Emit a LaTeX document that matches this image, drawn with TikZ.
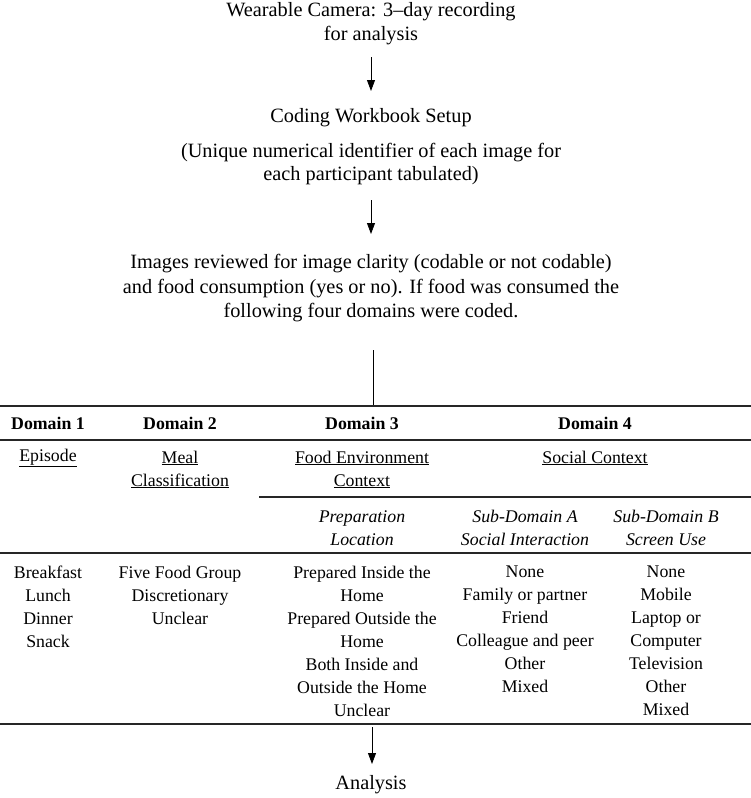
\documentclass[tikz,border=0pt]{standalone}
\usepackage{fontspec}
\setmainfont{Liberation Serif}
\usetikzlibrary{arrows.meta}
\begin{document}
\begin{tikzpicture}[x=1pt,y=-1pt,
  txt/.style={font=\fontsize{20.3}{23.5}\selectfont, align=center, inner sep=0pt},
  tb/.style={font=\fontsize{17.8}{23}\selectfont, align=center, inner sep=0pt},
  hd/.style={tb, font=\fontsize{17.8}{23}\selectfont\bfseries},
  it/.style={tb, font=\fontsize{17.8}{23.5}\selectfont\itshape},
  rule/.style={line width=1.6pt, draw=black!85},
  arr/.style={line width=0.8pt, -{Triangle[width=8pt,length=11pt]}}]
\useasboundingbox (0,0) rectangle (751,798);
% top flow
\node[txt] (cam) at (371,23.5) {Wearable Camera: 3–day recording\\for analysis};
\node[txt] (cws) at (371,118) {Coding Workbook Setup};
\node[txt] (uni) at (371,164) {(Unique numerical identifier of each image for\\each participant tabulated)};
\node[txt,font=\fontsize{20.3}{24.5}\selectfont] (img) at (371,288.5) {Images reviewed for image clarity (codable or not codable)\\and food consumption (yes or no). If food was consumed the\\following four domains were coded.};
\coordinate (a1s) at (371,57); \coordinate (a1e) at (371,91);
\coordinate (a2s) at (371,200); \coordinate (a2e) at (371,234);
\draw[arr] (a1s) -- (a1e);
\draw[arr] (a2s) -- (a2e);
\coordinate (vs) at (373,350); \coordinate (ve) at (373,406);
\draw[line width=0.8pt] (vs) -- (ve);
% rules
\coordinate (r1l) at (0,406); \coordinate (r1r) at (751,406);
\coordinate (r2l) at (0,440); \coordinate (r2r) at (751,440);
\coordinate (r3l) at (259,497); \coordinate (r3r) at (751,497);
\coordinate (r4l) at (0,553); \coordinate (r4r) at (751,553);
\coordinate (r5l) at (0,724); \coordinate (r5r) at (751,724);
\draw[rule] (r1l) -- (r1r);
\draw[rule] (r2l) -- (r2r);
\draw[rule] (r3l) -- (r3r);
\draw[rule] (r4l) -- (r4r);
\draw[rule] (r5l) -- (r5r);
% headers
\node[hd] (d1) at (48,423) {Domain 1};
\node[hd] (d2) at (180,423) {Domain 2};
\node[hd] (d3) at (362,423) {Domain 3};
\node[hd] (d4) at (595,423) {Domain 4};
\node[tb] (ep) at (48,458) {\underline{Episode}};
\node[tb] (mc) at (180,469.5) {\underline{Meal}\\\underline{Classification}};
\node[tb] (fe) at (362,469.5) {\underline{Food Environment}\\\underline{Context}};
\node[tb] (sc) at (595,458) {\underline{Social Context}};
\node[it] (pl) at (362,528) {Preparation\\Location};
\node[it] (sa) at (525,528) {Sub-Domain A\\Social Interaction};
\node[it] (sb) at (666,528) {Sub-Domain B\\Screen Use};
% data
\node[tb] (c1) at (48,606.5) {Breakfast\\Lunch\\Dinner\\Snack};
\node[tb] (c2) at (180,595) {Five Food Group\\Discretionary\\Unclear};
\node[tb] (c3) at (362,641) {Prepared Inside the\\Home\\Prepared Outside the\\Home\\Both Inside and\\Outside the Home\\Unclear};
\node[tb] (c4) at (525,629.5) {None\\Family or partner\\Friend\\Colleague and peer\\Other\\Mixed};
\node[tb] (c5) at (666,641) {None\\Mobile\\Laptop or\\Computer\\Television\\Other\\Mixed};
\coordinate (a3s) at (372,727); \coordinate (a3e) at (372,764);
\draw[arr] (a3s) -- (a3e);
\node[txt] (an) at (371,785) {Analysis};
\end{tikzpicture}
\end{document}
